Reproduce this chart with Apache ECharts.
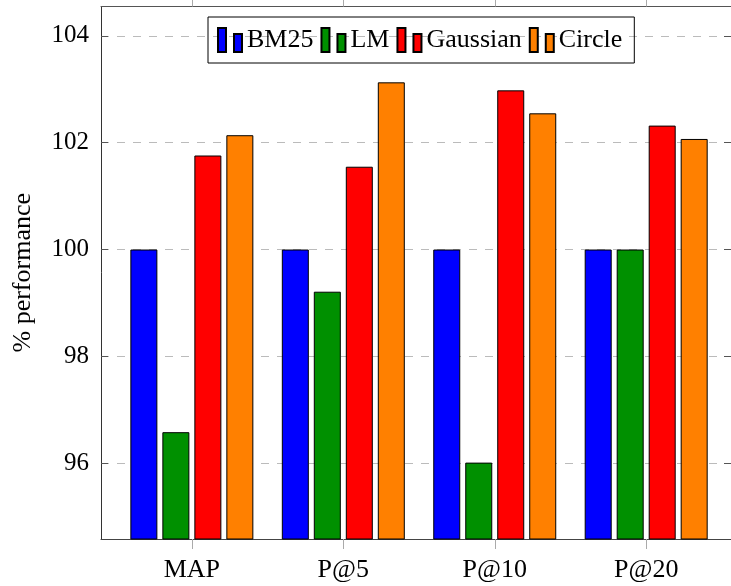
<!DOCTYPE html>
<html>
<head>
<meta charset="utf-8">
<script src="https://cdn.jsdelivr.net/npm/echarts@6/dist/echarts.min.js"></script>
<style>html,body{margin:0;padding:0;background:#fff}#c{width:731px;height:586px}</style>
</head>
<body>
<div id="c"></div>
<script>
const categories = ['MAP', 'P@5', 'P@10', 'P@20'];
const seriesNames = ['BM25', 'LM', 'Gaussian', 'Circle'];
const bm25 = [100, 100, 100, 100];
const lm = [96.58, 99.21, 96.01, 100];
const gaussian = [101.76, 101.55, 102.98, 102.32];
const circle = [102.14, 103.13, 102.55, 102.07];
const yTicks = [96, 98, 100, 102, 104];
const colors = ['#0000ff', '#009000', '#ff0000', '#ff8000'];

const FONT = 'Liberation Serif';
const allValues = [bm25, lm, gaussian, circle];
const xIdx = categories.map((c, i) => i);

const chart = echarts.init(document.getElementById('c'), null, {renderer: 'canvas'});
chart.setOption({
  animation: false,
  backgroundColor: '#fff',
  grid: {left: 101, right: -1, top: 6.5, bottom: 47, containLabel: false},
  legend: {
    left: 208, top: 17,
    data: seriesNames,
    icon: 'path://M0,0 h8 v24 h-8 z M16,6 h8 v18 h-8 z',
    itemWidth: 24, itemHeight: 24, itemGap: 7,
    padding: [10, 12, 10, 9],
    borderColor: '#000', borderWidth: 1,
    textStyle: {fontFamily: FONT, fontSize: 26, color: '#000', padding: [4, 0, 0, 0]}
  },
  xAxis: [{
    type: 'value', position: 'bottom', min: -0.6, max: 3.56,
    axisLine: {show: true, onZero: false, lineStyle: {color: '#444', width: 1}},
    axisTick: {show: true, inside: false, length: 10, customValues: xIdx, lineStyle: {color: '#aaa'}},
    axisLabel: {show: true, customValues: xIdx, margin: 18, fontFamily: FONT, fontSize: 26, color: '#000',
      formatter: v => categories[Math.round(v)] || ''},
    splitLine: {show: false}
  }, {
    type: 'value', position: 'top', min: -0.6, max: 3.56,
    axisLine: {show: true, onZero: false, lineStyle: {color: '#555', width: 1}},
    axisTick: {show: true, inside: false, length: 10, customValues: xIdx, lineStyle: {color: '#aaa'}},
    axisLabel: {show: false},
    splitLine: {show: false}
  }],
  yAxis: [{
    type: 'value', position: 'left', min: 94.58, max: 104.55,
    name: '% performance', nameLocation: 'middle', nameRotate: 90, nameGap: 65,
    nameTextStyle: {fontFamily: FONT, fontSize: 26, color: '#000'},
    axisLine: {show: true, onZero: false, lineStyle: {color: '#333', width: 1}},
    axisTick: {show: true, inside: true, length: 7, customValues: yTicks, lineStyle: {color: '#555'}},
    axisLabel: {show: true, customValues: yTicks, margin: 12, fontFamily: FONT, fontSize: 25, color: '#000',
      formatter: v => String(Math.round(v))},
    splitLine: {show: true, lineStyle: {color: '#bbb', type: [8, 8], width: 1}}
  }, {
    type: 'value', position: 'right', min: 94.58, max: 104.55,
    axisLine: {show: true, onZero: false, lineStyle: {color: '#333', width: 1}},
    axisTick: {show: true, inside: true, length: 7, customValues: yTicks, lineStyle: {color: '#555'}},
    axisLabel: {show: false},
    splitLine: {show: false}
  }],
  series: seriesNames.map((name, s) => ({
    name: name,
    type: 'bar',
    xAxisIndex: 0, yAxisIndex: 0,
    barWidth: 27,
    barGap: '18.5%',
    data: allValues[s].map((v, i) => [i, v]),
    itemStyle: {color: colors[s], borderColor: '#000', borderWidth: 1},
    z: 3
  }))
});
</script>
</body>
</html>
